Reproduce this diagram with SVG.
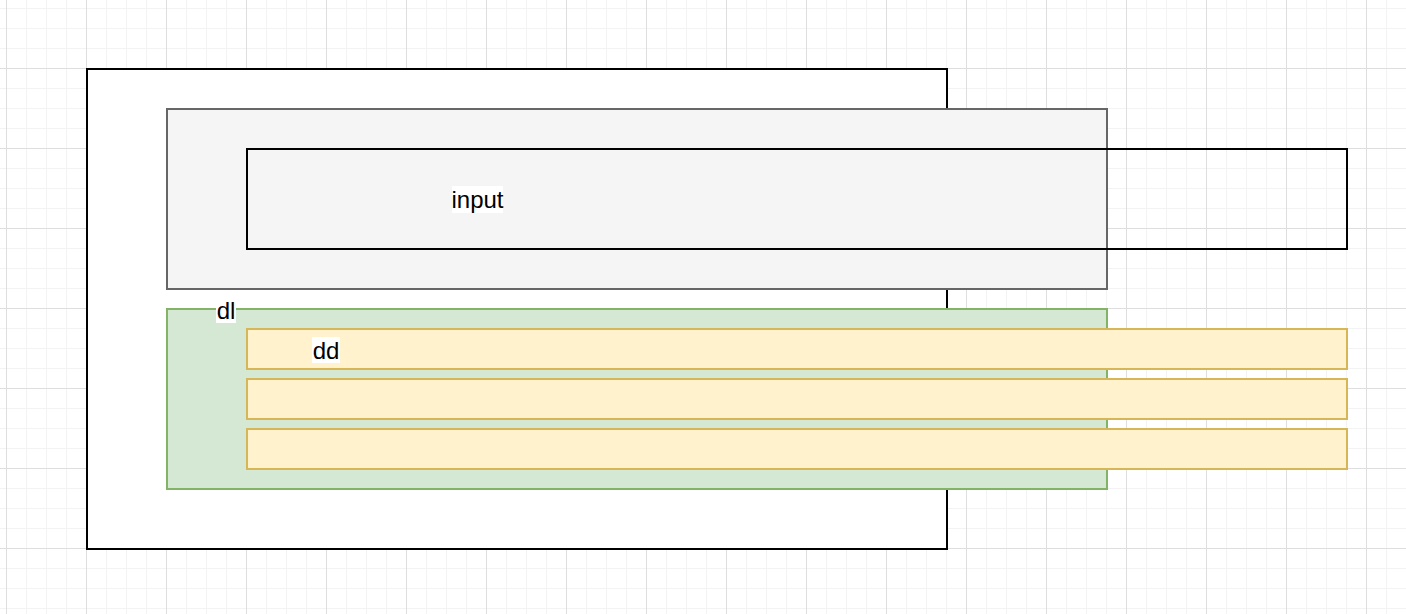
<svg xmlns="http://www.w3.org/2000/svg" width="1406" height="614" viewBox="0 0 1406 614">
  <style>
    .lbl { font-family: "Liberation Sans", Arial, Helvetica, sans-serif; font-size: 24px; fill: #000000; }
    .lblbg { fill: #ffffff; stroke: none; }
    .outer { fill: #ffffff; stroke: #000000; stroke-width: 2; }
    .gray { fill: #f5f5f5; stroke: #666666; stroke-width: 2; }
    .input { fill: none; stroke: #000000; stroke-width: 2; }
    .green { fill: #d5e8d4; stroke: #82b366; stroke-width: 2; }
    .yellow { fill: #fff2cc; stroke: #d6b656; stroke-width: 2; }
  </style>
  <defs>
    <pattern id="minor" patternUnits="userSpaceOnUse" x="6" y="8" width="20" height="20">
      <path d="M0.5 0V20M0 0.5H20" stroke="#f3f3f3" stroke-width="1" fill="none"/>
    </pattern>
    <pattern id="major" patternUnits="userSpaceOnUse" x="6" y="-12" width="80" height="80">
      <path d="M0.5 0V80M0 0.5H80" stroke="#dedede" stroke-width="1" fill="none"/>
    </pattern>
  </defs>
  <rect x="0" y="0" width="1406" height="614" fill="#ffffff"/>
  <rect x="0" y="0" width="1406" height="614" fill="url(#minor)"/>
  <rect x="0" y="0" width="1406" height="614" fill="url(#major)"/>

  <g id="outer">
    <rect class="outer" x="87" y="69" width="860" height="480"/>
  </g>
  <g id="form">
    <rect class="gray" x="167" y="109" width="940" height="180"/>
  </g>
  <g id="input">
    <rect class="input" x="247" y="149" width="1100" height="100"/>
    <rect class="lblbg" x="452" y="186" width="51" height="27"/>
    <text class="lbl" x="477.5" y="208" text-anchor="middle">input</text>
  </g>
  <g id="dl">
    <rect class="green" x="167" y="309" width="940" height="180"/>
    <rect class="lblbg" x="216" y="302" width="20" height="21"/>
    <text class="lbl" x="226" y="318.5" text-anchor="middle">dl</text>
  </g>
  <g id="dd1">
    <rect class="yellow" x="247" y="329" width="1100" height="40"/>
    <rect class="lblbg" x="312" y="337" width="28" height="26"/>
    <text class="lbl" x="326" y="358.5" text-anchor="middle">dd</text>
  </g>
  <g id="dd2">
    <rect class="yellow" x="247" y="379" width="1100" height="40"/>
  </g>
  <g id="dd3">
    <rect class="yellow" x="247" y="429" width="1100" height="40"/>
  </g>
  <g id="connectors"></g>
</svg>
